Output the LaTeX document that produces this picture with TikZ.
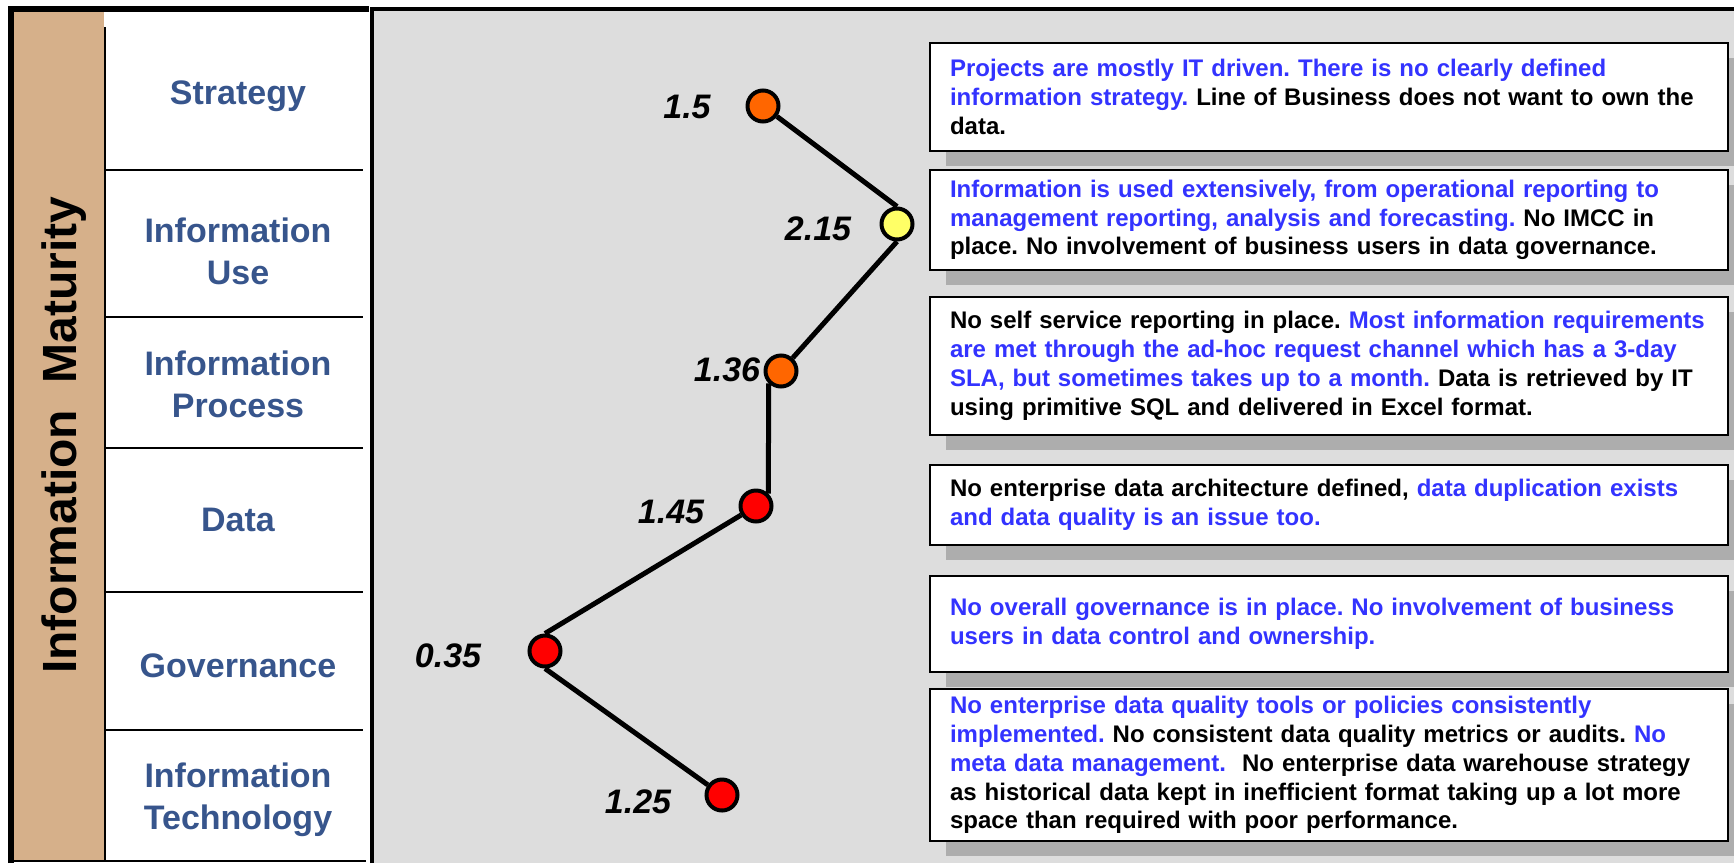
\documentclass[tikz,border=0pt]{standalone}
\usepackage{fontspec}
\setmainfont{Liberation Sans}
\usetikzlibrary{shadows}
\frenchspacing
\hyphenpenalty=10000

\definecolor{titletan}{RGB}{214,176,138}
\definecolor{panel}{RGB}{221,221,221}
\definecolor{shade}{RGB}{173,173,173}
\definecolor{rowblue}{RGB}{55,85,140}
\definecolor{hiblue}{RGB}{51,51,255}
\definecolor{mkorange}{RGB}{255,102,0}
\definecolor{mkyellow}{RGB}{255,255,102}
\definecolor{mkred}{RGB}{255,0,0}
\newcommand{\hi}[1]{\textcolor{hiblue}{#1}}

\begin{document}
\begin{tikzpicture}[x=1pt,y=-1pt,
  rowlabel/.style={align=center,text=rowblue,font=\fontsize{34}{42}\selectfont\bfseries},
  marker/.style={circle,draw,line width=4pt,minimum size=31pt,inner sep=0pt},
  score/.style={font=\fontsize{34}{40}\selectfont\bfseries\itshape},
  link/.style={line width=5pt},
  note/.style={draw,line width=2pt,fill=white,anchor=north west,text width=758pt,
    inner xsep=20pt,inner ysep=4pt,align=left,font=\fontsize{24}{28.8}\selectfont\bfseries,
    drop shadow={shadow xshift=16pt,shadow yshift=-15pt,fill=shade,opacity=1}}]
\useasboundingbox (0,0) rectangle (1734,863);

% frame and columns
\fill[titletan] (14,12) rectangle (104,861);
\fill[panel] (372,9) rectangle (1734,863);
\draw[line width=3.5pt] (372,863) -- (372,9) -- (1734,9);
\draw[line width=6pt] (11,863) -- (11,9) -- (369,9);
\draw[line width=2.5pt] (105,27) -- (105,861);
\draw[line width=2.5pt] (8,861) -- (366,861);
\foreach \y in {170,317,448,592,730}
  \draw[line width=2pt] (105,\y) -- (363,\y);

\node[rotate=90,font=\fontsize{48}{48}\selectfont\bfseries] (title) at (64,435) {Information\ \ Maturity};

\foreach \y/\t [count=\i] in {96/Strategy, 251/Information\\Use, 384/Information\\Process,
                              520/Data, 666/Governance, 800/Information\\Technology}
  \node[rowlabel] (row\i) at (238,\y) {\t};

% scores
\foreach \i/\x/\y/\c/\v/\lx/\ly in {1/763/106/mkorange/1.5/687/107,
                                  2/897/224/mkyellow/2.15/818/229,
                                  3/781/371/mkorange/1.36/727/370,
                                  4/756/506/mkred/1.45/671/512,
                                  5/545/651/mkred/0.35/448/656,
                                  6/722/795/mkred/1.25/638/802}{
  \node[marker,fill=\c] (pt\i) at (\x,\y) {};
  \node[score] (val\i) at (\lx,\ly) {\v};
}
\draw[link] (pt1) -- (pt2.north);
\draw[link] (pt2.south) -- (pt3);
\draw[link] (pt3.225) -- (pt4.45);
\draw[link] (pt4) -- (pt5.north);
\draw[link] (pt5.south) -- (pt6);

% comments
\node[note,minimum height=108pt] (note1) at (929,42)
  {\hi{Projects are mostly IT driven. There is no clearly defined}\\
   \hi{information strategy.} Line of Business does not want to own the\\
   data.};
\node[note,minimum height=100pt] (note2) at (929,169)
  {\hi{Information is used extensively, from operational reporting to}\\
   \hi{management reporting, analysis and forecasting.} No IMCC in\\
   place. No involvement of business users in data governance.};
\node[note,minimum height=138pt] (note3) at (929,296)
  {No self service reporting in place. \hi{Most information requirements}\\
   \hi{are met through the ad-hoc request channel which has a 3-day}\\
   \hi{SLA, but sometimes takes up to a month.} Data is retrieved by IT\\
   using primitive SQL and delivered in Excel format.};
\node[note,minimum height=80pt] (note4) at (929,464)
  {No enterprise data architecture defined, \hi{data duplication exists}\\
   \hi{and data quality is an issue too.}};
\node[note,minimum height=96pt] (note5) at (929,575)
  {\hi{No overall governance is in place. No involvement of business}\\
   \hi{users in data control and ownership.}};
\node[note,minimum height=152pt] (note6) at (929,688)
  {\hi{No enterprise data quality tools or policies consistently}\\
   \hi{implemented.} No consistent data quality metrics or audits. \hi{No}\\
   \hi{meta data management.}\ \ No enterprise data warehouse strategy\\
   as historical data kept in inefficient format taking up a lot more\\
   space than required with poor performance.};
\end{tikzpicture}
\end{document}
